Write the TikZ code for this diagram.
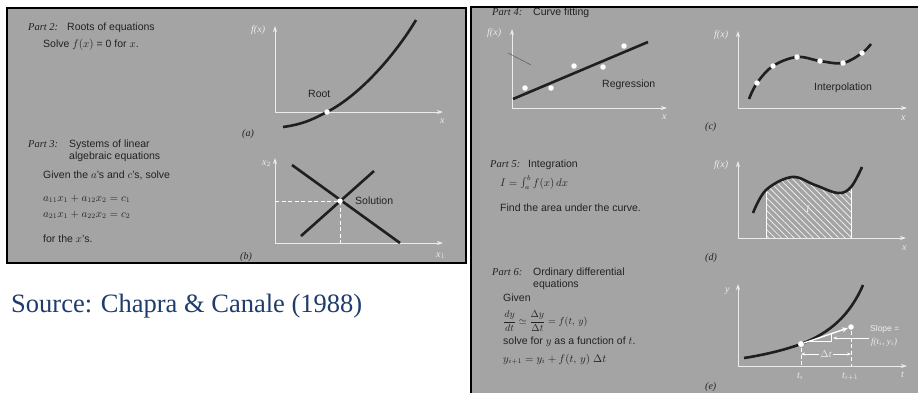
\documentclass[tikz,border=0pt]{standalone}
\usepackage{fontspec}
\setmainfont{Liberation Sans}
\newfontfamily\serf{Liberation Serif}
\usetikzlibrary{arrows.meta,patterns.meta}
\definecolor{panelgray}{RGB}{164,164,164}
\definecolor{ink}{RGB}{34,34,34}
\definecolor{axwhite}{RGB}{236,236,236}
\definecolor{srcblue}{RGB}{30,60,108}
\begin{document}
\begin{tikzpicture}[x=1pt,y=-1pt,
  txt/.style={anchor=base west, inner sep=0pt, text=ink, font=\fontsize{10.5}{12}\selectfont},
  part/.style={anchor=base west, inner sep=0pt, text=ink, font=\serf\itshape\fontsize{10.5}{12}\selectfont},
  sublbl/.style={anchor=base west, inner sep=0pt, text=ink, font=\serf\itshape\fontsize{10}{12}\selectfont},
  albl/.style={anchor=base west, inner sep=0pt, text=axwhite, font=\serf\itshape\fontsize{10}{12}\selectfont},
  wlbl/.style={anchor=base west, inner sep=0pt, text=axwhite, font=\fontsize{8.5}{10}\selectfont},
  axis/.style={draw=axwhite, line width=1pt, -{Stealth[length=6pt,width=4pt]}},
  curve/.style={draw=black!88, line width=2.6pt},
  wline/.style={draw=white, line width=0.8pt},
  wdash/.style={draw=white, line width=0.8pt, dash pattern=on 4pt off 2.5pt},
  wdot/.style={circle, fill=white, inner sep=0pt, minimum size=5.5pt}]
\useasboundingbox (0,0) rectangle (918,392);
\clip (0,0) rectangle (918,392);
\fill[white] (0,0) rectangle (918,392);
% panels
\draw[fill=panelgray, line width=2pt] (7,8) rectangle (466,263);
\draw[fill=panelgray, line width=2pt] (471,7) rectangle (925,400);

% ---------- Part 2 ----------
\node[part] (p2) at (28,30) {Part 2:};
\node[txt] (p2t) at (67,30) {Roots of equations};
\node[txt] (p2s) at (43,47) {Solve $f(x)$ = 0 for $x$.};
\draw[axis] (275,112) -- (443,112);
\draw[axis] (275,112) -- (275,26);
\node[albl] (a-fx) at (251,32) {f(x)};
\node[albl] (a-x) at (440,123) {x};
\node[sublbl] (a-lab) at (242,136) {(a)};
\draw[curve] (283,127) .. controls (305,124) and (315,118) .. (327,112) .. controls (360,95) and (395,55) .. (416,20);
\node[wdot] (root) at (327,112) {};
\node[txt] (rootl) at (308,97) {Root};

% ---------- Part 3 ----------
\node[part] (p3) at (28,147) {Part 3:};
\node[txt] (p3t1) at (69,147) {Systems of linear};
\node[txt] (p3t2) at (69,159) {algebraic equations};
\node[txt] (p3g) at (43,178) {Given the $a$'s and $c$'s, solve};
\node[txt] (p3e1) at (43,201) {$a_{11}x_1 + a_{12}x_2 = c_1$};
\node[txt] (p3e2) at (43,217) {$a_{21}x_1 + a_{22}x_2 = c_2$};
\node[txt] (p3f) at (43,242) {for the $x$'s.};
\draw[axis] (275,243) -- (443,243);
\draw[axis] (275,243) -- (275,158);
\node[albl] (b-x2) at (262,165) {x$_2$};
\node[albl] (b-x1) at (436,257) {x$_1$};
\node[sublbl] (b-lab) at (240,259) {(b)};
\draw[wdash] (275,201) -- (340,201) -- (340,243);
\draw[curve] (292,165) -- (400,243);
\draw[curve] (301,236) -- (374,171);
\node[wdot] (sol) at (340,201) {};
\node[txt] (soll) at (355,204) {Solution};

% ---------- Part 4 ----------
\begin{scope}
\clip (472,8) rectangle (918,40);
\node[part] (p4) at (492,15) {Part 4:};
\node[txt] (p4t) at (533,15) {Curve fitting};
\end{scope}
\draw[axis] (512,108) -- (667,108);
\draw[axis] (512,108) -- (512,29);
\node[albl] (r-fx) at (487,35) {f(x)};
\node[albl] (r-x) at (662,119) {x};
\draw[black!70, line width=0.4pt] (508,53) -- (531,65);
\draw[curve] (513,99) -- (648,42);
\node[wdot] (r1) at (525,88) {};
\node[wdot] (r2) at (551,88) {};
\node[wdot] (r3) at (574,66) {};
\node[wdot] (r4) at (603,67) {};
\node[wdot] (r5) at (624,46) {};
\node[txt] (regl) at (602,87) {Regression};

\draw[axis] (738,108) -- (907,108);
\draw[axis] (738,108) -- (738,31);
\node[albl] (c-fx) at (714,37) {f(x)};
\node[albl] (c-x) at (901,120) {x};
\node[sublbl] (c-lab) at (705,129) {(c)};
\draw[curve] plot[smooth, tension=0.6] coordinates {(749,99) (757,83) (773,66) (797,57) (820,61) (843,63) (862,53) (871,44)};
\node[wdot] (i1) at (757,83) {};
\node[wdot] (i2) at (773,66) {};
\node[wdot] (i3) at (797,57) {};
\node[wdot] (i4) at (820,61) {};
\node[wdot] (i5) at (843,63) {};
\node[wdot] (i6) at (862,53) {};
\node[txt] (intl) at (814,90) {Interpolation};

% ---------- Part 5 ----------
\node[part] (p5) at (490,167) {Part 5:};
\node[txt] (p5t) at (528,167) {Integration};
\node[txt] (p5e) at (500,186) {$I = \int_a^b f(x)\,dx$};
\node[txt] (p5f) at (500,211) {Find the area under the curve.};
\begin{scope}
\clip (766,150) rectangle (851,238);
\fill[pattern={Lines[angle=-45,distance=4.5pt,line width=0.7pt]}, pattern color=white!92!gray]
  plot[smooth, tension=0.6] coordinates {(753,213) (766,190) (792,177) (815,185) (838,193) (851,187) (862,167)} -- (862,238) -- (753,238) -- cycle;
\end{scope}
\draw[wline] (766,238) -- (766,190);
\draw[wline] (851,238) -- (851,187);
\draw[axis] (738,238) -- (906,238);
\draw[axis] (738,238) -- (738,161);
\node[albl] (d-fx) at (714,167) {f(x)};
\node[albl] (d-x) at (902,250) {x};
\node[sublbl] (d-lab) at (705,260) {(d)};
\draw[curve] plot[smooth, tension=0.6] coordinates {(753,213) (766,190) (792,177) (815,185) (838,193) (851,187) (862,167)};
\node[albl] (d-I) at (806,212) {I};

% ---------- Part 6 ----------
\node[part] (p6) at (492,275) {Part 6:};
\node[txt] (p6t1) at (533,275) {Ordinary differential};
\node[txt] (p6t2) at (533,287) {equations};
\node[txt] (p6g) at (503,301) {Given};
\node[txt, anchor=west, font=\fontsize{10}{12}\selectfont] (p6e) at (503,321) {$\displaystyle\frac{dy}{dt} \simeq \frac{\Delta y}{\Delta t} = f(t,\, y)$};
\node[txt] (p6s) at (503,344) {solve for $y$ as a function of $t$.};
\node[txt] (p6r) at (503,362) {$y_{i+1} = y_i + f(t,\, y)\;\Delta t$};
\draw[axis] (738,366) -- (907,366);
\draw[axis] (738,366) -- (738,284);
\node[albl] (e-y) at (725,292) {y};
\node[albl] (e-t) at (901,377) {t};
\node[sublbl] (e-lab) at (705,389) {(e)};
\node[albl] (e-ti) at (797,378) {t$_i$};
\node[albl] (e-ti1) at (842,378) {t$_{i+1}$};
\draw[wdash] (801,348) -- (801,366);
\draw[wdash] (851,331) -- (851,366);
\draw[curve] (744,358) .. controls (770,354) and (790,348) .. (801,344) .. controls (830,333) and (850,315) .. (863,285);
\coordinate (tgt) at (848,328);
\node[wdot, minimum size=6pt] (pi) at (801,344) {};
\node[wdot] (pi1) at (851,327) {};
\draw[draw=white, line width=1.4pt, -{Stealth[length=6pt,width=5pt]}] (pi) -- (tgt);
\draw[wline, line width=0.6pt] (809,341) -- (831,341) -- (831,333.5);
\coordinate (tri) at (833,338);
\node[wlbl] (slope1) at (870,331) {Slope =};
\node[wlbl, font=\serf\itshape\fontsize{9}{10}\selectfont] (slope2) at (871,344) {f(t$_i$, y$_i$)};
\draw[wline, line width=0.6pt, -{Stealth[length=4pt,width=3pt]}] (869,338) -- (tri);
\node[albl, anchor=center, fill=panelgray, inner sep=1pt] (dt) at (826,354) {$\Delta$t};
\draw[wline, line width=0.6pt, -{Stealth[length=4pt,width=3pt]}] (dt.west) -- (801,354);
\draw[wline, line width=0.6pt, -{Stealth[length=4pt,width=3pt]}] (dt.east) -- (851,354);

% ---------- source ----------
\node[anchor=base west, inner sep=0pt, text=srcblue, font=\serf\fontsize{26.5}{30}\selectfont] (src) at (11,312) {Source: Chapra \& Canale (1988)};
\end{tikzpicture}
\end{document}
